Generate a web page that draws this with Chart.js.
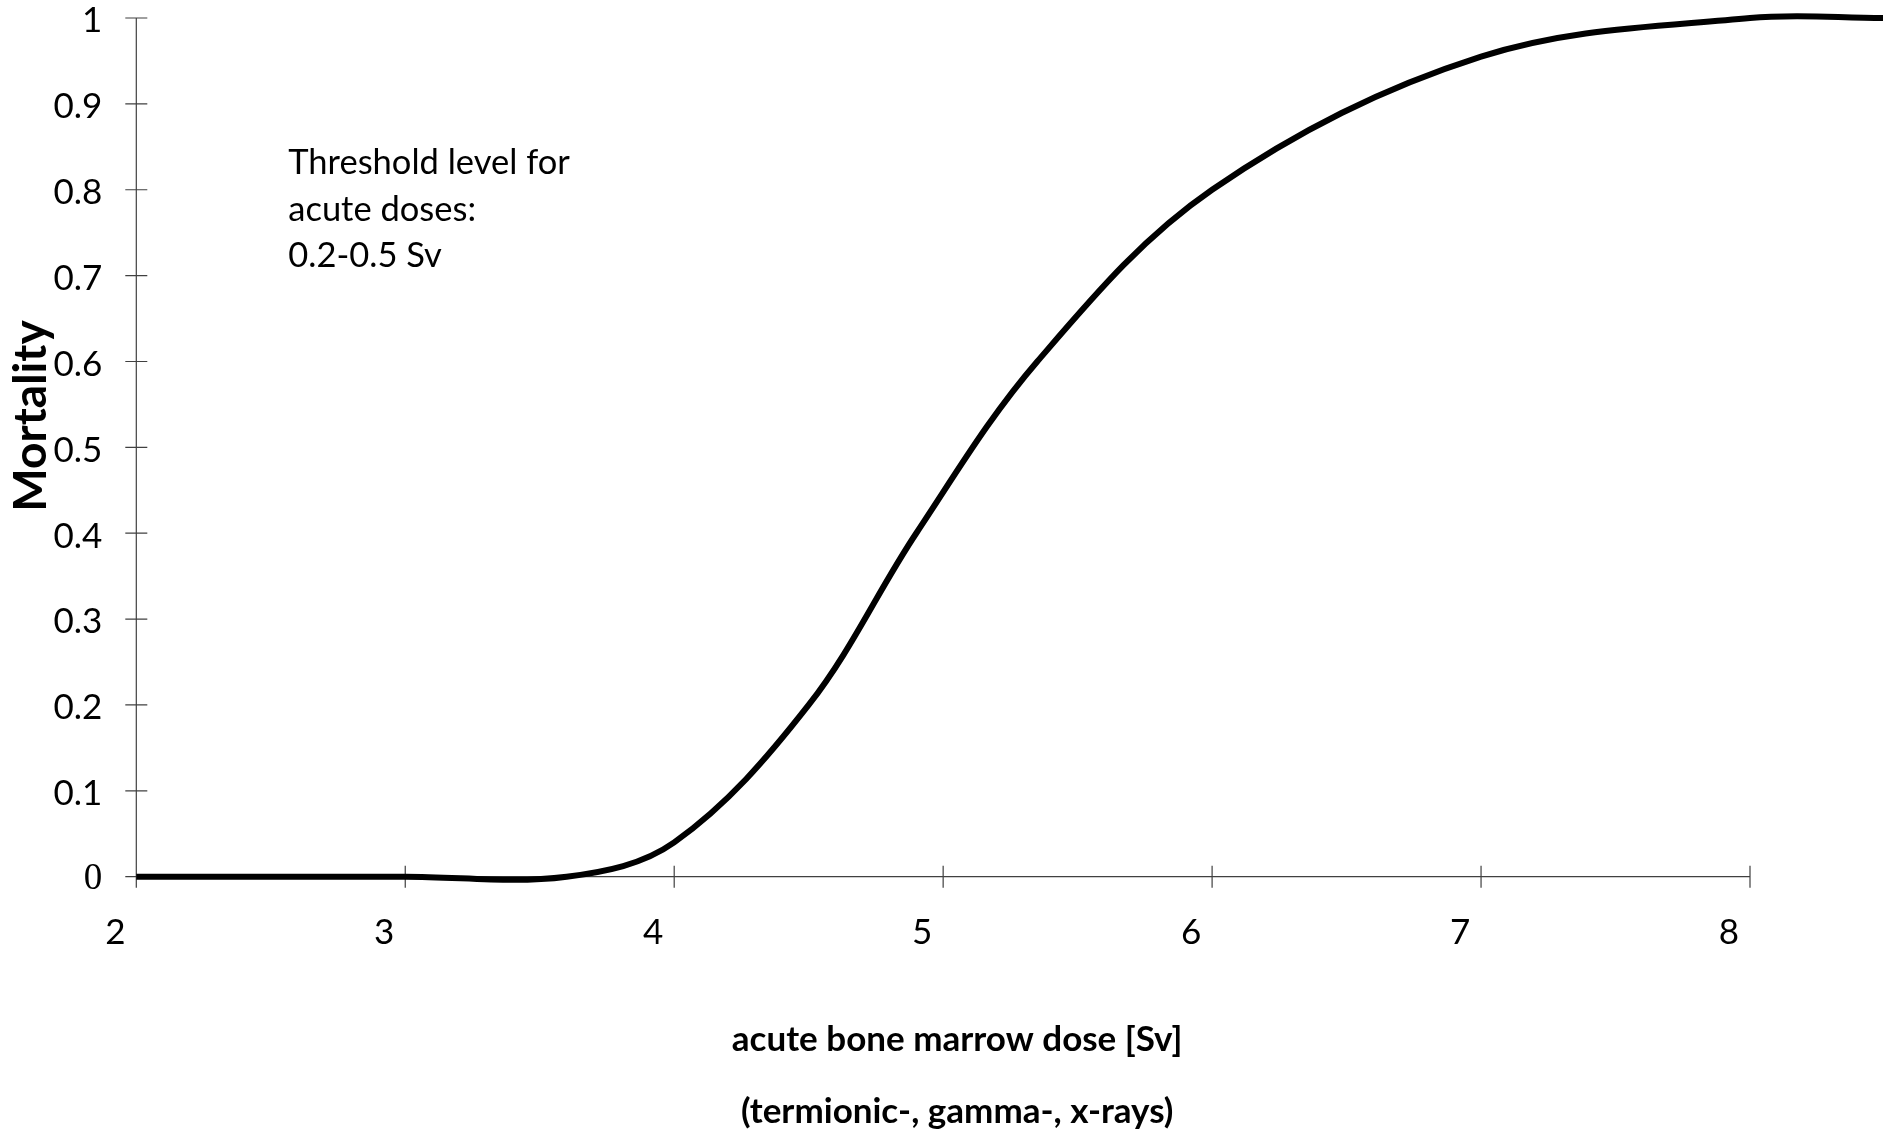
<!DOCTYPE html>
<html>
<head>
<meta charset="utf-8">
<title>Mortality vs acute bone marrow dose</title>
<script src="https://cdn.jsdelivr.net/npm/chart.js@4.4.1/dist/chart.umd.min.js"></script>
<style>
  html, body { margin: 0; padding: 0; background: #fff; }
  #wrap { width: 1883px; height: 1131px; }
</style>
</head>
<body>
<div id="wrap"><canvas id="chart"></canvas></div>
<script>
// curve points (dose in Sv, mortality 0..1)
const doseSv    = [2, 3, 3.6, 4, 4.5, 4.9, 5.35, 6, 7, 8, 8.5];
const mortality = [0, 0, 0, 0.04, 0.2, 0.4, 0.6, 0.8, 0.955, 1.0, 1.0];

// axes
const xTickValues = [2, 3, 4, 5, 6, 7, 8];
const yTickValues = [0, 0.1, 0.2, 0.3, 0.4, 0.5, 0.6, 0.7, 0.8, 0.9, 1];
const yTickLabels = ['0', '0.1', '0.2', '0.3', '0.4', '0.5', '0.6', '0.7', '0.8', '0.9', '1'];

// texts
const xTitleLines = ['acute bone marrow dose [Sv]', '(termionic-, gamma-, x-rays)'];
const yTitle = 'Mortality';
const noteLines = ['Threshold level for', 'acute doses:', '0.2-0.5 Sv'];
const noteAt = [2.565, 0.831];

const FONT = 'Lato';

//Axis lines with ticks crossing them (Excel style) //////////////
const crossAxes = {
  id: 'crossAxes',
  beforeDatasetsDraw(chart) {
    const {ctx, scales: {x, y}} = chart;
    const x0 = x.getPixelForValue(xTickValues[0]);
    const x1 = x.getPixelForValue(xTickValues[xTickValues.length - 1]);
    const y0 = y.getPixelForValue(yTickValues[0]);
    const y1 = y.getPixelForValue(yTickValues[yTickValues.length - 1]);
    ctx.save();
    ctx.strokeStyle = '#404040';
    ctx.lineWidth = 1.2;
    ctx.beginPath();
    ctx.moveTo(x0, y0); ctx.lineTo(x1, y0);
    ctx.moveTo(x0, y0); ctx.lineTo(x0, y1);
    xTickValues.forEach(v => {
      const px = x.getPixelForValue(v);
      ctx.moveTo(px, y0 - 11); ctx.lineTo(px, y0 + 11);
    });
    yTickValues.forEach(v => {
      const py = y.getPixelForValue(v);
      ctx.moveTo(x0 - 11, py); ctx.lineTo(x0 + 11, py);
    });
    ctx.stroke();
    ctx.restore();
  }
};

//Titles and the note //////////////
const chartTexts = {
  id: 'chartTexts',
  afterDraw(chart) {
    const {ctx, chartArea, scales: {x, y}} = chart;
    ctx.save();
    ctx.fillStyle = '#000';
    ctx.textBaseline = 'middle';

    // note inside the plot
    ctx.font = '34.5px ' + FONT;
    ctx.textAlign = 'left';
    const nx = x.getPixelForValue(noteAt[0]);
    const ny = y.getPixelForValue(noteAt[1]);
    noteLines.forEach((t, i) => ctx.fillText(t, nx, ny + i * 46.5));

    // x title, two lines
    ctx.font = 'bold 35px ' + FONT;
    ctx.textAlign = 'center';
    const cx = (chartArea.left + chartArea.right) / 2 + 14;
    xTitleLines.forEach((t, i) => ctx.fillText(t, cx, chartArea.bottom + 163 + i * 72));

    // y title, rotated
    ctx.font = 'bold 46px ' + FONT;
    ctx.translate(31, 416);
    ctx.rotate(-Math.PI / 2);
    ctx.fillText(yTitle, 0, 0);
    ctx.restore();
  }
};

new Chart(document.getElementById('chart'), {
  type: 'line',
  data: {
    datasets: [{
      data: doseSv.map((d, i) => ({x: d, y: mortality[i]})),
      borderColor: '#000',
      borderWidth: 6,
      pointRadius: 0,
      tension: 0.35,
      capBezierPoints: false,
      clip: false,
      fill: false
    }]
  },
  options: {
    responsive: true,
    maintainAspectRatio: false,
    animation: false,
    layout: {padding: {top: 18, right: 133, bottom: 0, left: 0}},
    plugins: {legend: {display: false}, tooltip: {enabled: false}},
    scales: {
      x: {
        type: 'linear',
        // range set here so the curve past 8 is not cut off
        afterDataLimits(s) { s.min = 2; s.max = 8; },
        afterBuildTicks(s) { s.ticks = xTickValues.map(v => ({value: v})); },
        afterFit(s) { s.height = 254.3; },
        grid: {display: false, drawTicks: false},
        border: {display: false},
        ticks: {
          padding: 34.4,
          labelOffset: -21,
          color: '#000',
          maxRotation: 0,
          autoSkip: false,
          font: {family: FONT, size: 35, lineHeight: 1.26}
        }
      },
      y: {
        min: 0,
        max: 1,
        afterBuildTicks(s) { s.ticks = yTickValues.map(v => ({value: v})); },
        afterFit(s) {
          s.width = 136.3;
          // tick padding would otherwise push the plot top down
          s.paddingTop = 10;
          s.paddingBottom = 10;
        },
        grid: {display: false, drawTicks: false},
        border: {display: false},
        ticks: {
          padding: 34,
          labelOffset: 3,
          color: '#000',
          autoSkip: false,
          callback: (v, i) => yTickLabels[i],
          font: (c) => (c.tick && c.tick.value === 0)
            ? {family: 'Liberation Serif', size: 37, lineHeight: 1}
            : {family: FONT, size: 35, lineHeight: 1}
        }
      }
    }
  },
  plugins: [crossAxes, chartTexts]
});
</script>
</body>
</html>
